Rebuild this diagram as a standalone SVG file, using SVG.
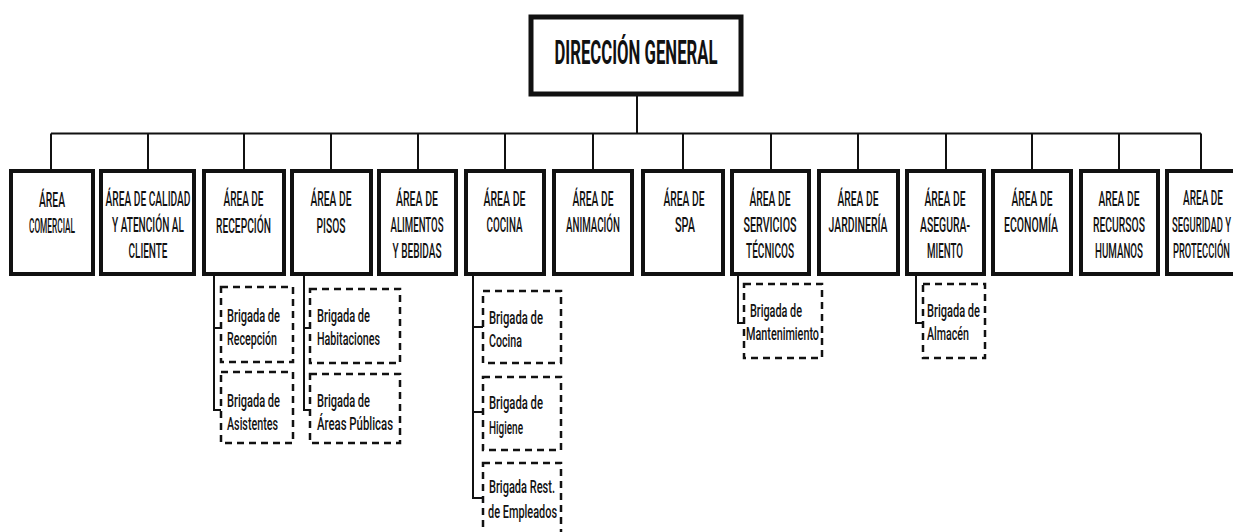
<svg xmlns="http://www.w3.org/2000/svg" width="1233" height="532" viewBox="0 0 1233 532">
<style>
.box{fill:#fff;stroke:#111;stroke-width:4}
.top{fill:#fff;stroke:#111;stroke-width:5}
.brig{fill:#fff;stroke:#111;stroke-width:2.5;stroke-dasharray:7 5}
.conn{fill:none;stroke:#111;stroke-width:2}
text{font-family:Roboto,"DejaVu Sans",sans-serif;font-weight:500;fill:#111}
.t{font-size:20px;text-anchor:middle}
.b{font-size:18px;text-anchor:start}
.h{font-size:33px;font-weight:bold;text-anchor:middle}
</style>
<rect width="1233" height="532" fill="#fff"/>
<g id="connectors">
<path class="conn" d="M637 95V133.5M51 133.5H1201"/>
<path class="conn" d="M51 133.5V169M148 133.5V169M244 133.5V169M331 133.5V169M418 133.5V169M505 133.5V169M593 133.5V169M683 133.5V169M771 133.5V169M858 133.5V169M946 133.5V169M1032 133.5V169M1119 133.5V169M1201 133.5V169"/>
<path class="conn" d="M214 275V410H221M214 328H221"/>
<path class="conn" d="M304 275V410H310M304 328H310"/>
<path class="conn" d="M473 275V498H483M473 327H483M473 412H483"/>
<path class="conn" d="M738 275V323H744"/>
<path class="conn" d="M916 275V323H923"/>
</g>
<g id="direccion">
<rect class="top" x="531" y="17" width="210" height="77"/>
<text class="h" x="636" y="64" textLength="163" lengthAdjust="spacingAndGlyphs">DIRECCIÓN GENERAL</text>
</g>
<g id="comercial">
<rect class="box" x="11" y="171" width="82" height="103"/>
<text class="t" x="52" y="207" textLength="26" lengthAdjust="spacingAndGlyphs">ÁREA</text>
<text class="t" x="52" y="233" textLength="46" lengthAdjust="spacingAndGlyphs">COMERCIAL</text>
</g>
<g id="calidad">
<rect class="box" x="101" y="171" width="93" height="103"/>
<text class="t" x="148" y="206" textLength="85" lengthAdjust="spacingAndGlyphs">ÁREA DE CALIDAD</text>
<text class="t" x="148" y="232" textLength="72" lengthAdjust="spacingAndGlyphs">Y ATENCIÓN AL</text>
<text class="t" x="148" y="258" textLength="39" lengthAdjust="spacingAndGlyphs">CLIENTE</text>
</g>
<g id="recepcion">
<rect class="box" x="204" y="171" width="80" height="103"/>
<text class="t" x="243.5" y="206" textLength="40" lengthAdjust="spacingAndGlyphs">ÁREA DE</text>
<text class="t" x="243.5" y="233" textLength="55" lengthAdjust="spacingAndGlyphs">RECEPCIÓN</text>
</g>
<g id="pisos">
<rect class="box" x="292" y="171" width="79" height="103"/>
<text class="t" x="331" y="206" textLength="41" lengthAdjust="spacingAndGlyphs">ÁREA DE</text>
<text class="t" x="331" y="233" textLength="29" lengthAdjust="spacingAndGlyphs">PISOS</text>
</g>
<g id="alimentos">
<rect class="box" x="379" y="171" width="77" height="103"/>
<text class="t" x="417" y="206" textLength="42" lengthAdjust="spacingAndGlyphs">ÁREA DE</text>
<text class="t" x="417" y="232" textLength="53" lengthAdjust="spacingAndGlyphs">ALIMENTOS</text>
<text class="t" x="417" y="258" textLength="49" lengthAdjust="spacingAndGlyphs">Y BEBIDAS</text>
</g>
<g id="cocina">
<rect class="box" x="466" y="171" width="78" height="103"/>
<text class="t" x="504.5" y="206" textLength="42" lengthAdjust="spacingAndGlyphs">ÁREA DE</text>
<text class="t" x="504.5" y="232" textLength="36" lengthAdjust="spacingAndGlyphs">COCINA</text>
</g>
<g id="animacion">
<rect class="box" x="554" y="171" width="78" height="103"/>
<text class="t" x="593" y="206" textLength="41" lengthAdjust="spacingAndGlyphs">ÁREA DE</text>
<text class="t" x="593" y="232" textLength="54" lengthAdjust="spacingAndGlyphs">ANIMACIÓN</text>
</g>
<g id="spa">
<rect class="box" x="643" y="171" width="80" height="103"/>
<text class="t" x="684" y="206" textLength="41" lengthAdjust="spacingAndGlyphs">ÁREA DE</text>
<text class="t" x="685" y="232" textLength="20" lengthAdjust="spacingAndGlyphs">SPA</text>
</g>
<g id="servicios">
<rect class="box" x="732" y="171" width="77" height="103"/>
<text class="t" x="770" y="206" textLength="41" lengthAdjust="spacingAndGlyphs">ÁREA DE</text>
<text class="t" x="770" y="232" textLength="53" lengthAdjust="spacingAndGlyphs">SERVICIOS</text>
<text class="t" x="770" y="258" textLength="48" lengthAdjust="spacingAndGlyphs">TÉCNICOS</text>
</g>
<g id="jardineria">
<rect class="box" x="819" y="171" width="79" height="103"/>
<text class="t" x="858" y="206" textLength="41" lengthAdjust="spacingAndGlyphs">ÁREA DE</text>
<text class="t" x="858" y="232" textLength="59" lengthAdjust="spacingAndGlyphs">JARDINERÍA</text>
</g>
<g id="aseguramiento">
<rect class="box" x="907" y="171" width="77" height="103"/>
<text class="t" x="945" y="206" textLength="41" lengthAdjust="spacingAndGlyphs">ÁREA DE</text>
<text class="t" x="945" y="232" textLength="50" lengthAdjust="spacingAndGlyphs">ASEGURA-</text>
<text class="t" x="945" y="258" textLength="36" lengthAdjust="spacingAndGlyphs">MIENTO</text>
</g>
<g id="economia">
<rect class="box" x="993" y="171" width="78" height="103"/>
<text class="t" x="1032" y="206" textLength="41" lengthAdjust="spacingAndGlyphs">ÁREA DE</text>
<text class="t" x="1031" y="232" textLength="54" lengthAdjust="spacingAndGlyphs">ECONOMÍA</text>
</g>
<g id="rrhh">
<rect class="box" x="1081" y="171" width="77" height="103"/>
<text class="t" x="1119" y="206" textLength="41" lengthAdjust="spacingAndGlyphs">AREA DE</text>
<text class="t" x="1119" y="232" textLength="52" lengthAdjust="spacingAndGlyphs">RECURSOS</text>
<text class="t" x="1119" y="258" textLength="48" lengthAdjust="spacingAndGlyphs">HUMANOS</text>
</g>
<g id="seguridad">
<rect class="box" x="1167" y="171" width="80" height="103"/>
<text class="t" x="1203" y="205" textLength="40" lengthAdjust="spacingAndGlyphs">AREA DE</text>
<text class="t" x="1201.5" y="232" textLength="59" lengthAdjust="spacingAndGlyphs">SEGURIDAD Y</text>
<text class="t" x="1201.5" y="258" textLength="57" lengthAdjust="spacingAndGlyphs">PROTECCIÓN</text>
</g>
<g id="b-recepcion">
<rect class="brig" x="221" y="287" width="72" height="75"/>
<text class="b" x="227" y="322" textLength="53" lengthAdjust="spacingAndGlyphs">Brigada de</text>
<text class="b" x="227" y="345" textLength="50" lengthAdjust="spacingAndGlyphs">Recepción</text>
</g>
<g id="b-asistentes">
<rect class="brig" x="221" y="372" width="72" height="71"/>
<text class="b" x="227" y="407" textLength="53" lengthAdjust="spacingAndGlyphs">Brigada de</text>
<text class="b" x="227" y="430" textLength="51" lengthAdjust="spacingAndGlyphs">Asistentes</text>
</g>
<g id="b-habitaciones">
<rect class="brig" x="310" y="289" width="90" height="74"/>
<text class="b" x="317" y="322" textLength="53" lengthAdjust="spacingAndGlyphs">Brigada de</text>
<text class="b" x="317" y="345" textLength="63" lengthAdjust="spacingAndGlyphs">Habitaciones</text>
</g>
<g id="b-areas">
<rect class="brig" x="310" y="374" width="90" height="69"/>
<text class="b" x="317" y="407" textLength="53" lengthAdjust="spacingAndGlyphs">Brigada de</text>
<text class="b" x="317" y="430" textLength="76" lengthAdjust="spacingAndGlyphs">Áreas Públicas</text>
</g>
<g id="b-cocina">
<rect class="brig" x="483" y="291" width="78" height="72"/>
<text class="b" x="489" y="324" textLength="54" lengthAdjust="spacingAndGlyphs">Brigada de</text>
<text class="b" x="489" y="347" textLength="33" lengthAdjust="spacingAndGlyphs">Cocina</text>
</g>
<g id="b-higiene">
<rect class="brig" x="483" y="377" width="78" height="73"/>
<text class="b" x="489" y="409" textLength="54" lengthAdjust="spacingAndGlyphs">Brigada de</text>
<text class="b" x="489" y="434" textLength="34" lengthAdjust="spacingAndGlyphs">Higiene</text>
</g>
<g id="b-restaurante">
<rect class="brig" x="483" y="463" width="78" height="80"/>
<text class="b" x="489" y="493" textLength="66" lengthAdjust="spacingAndGlyphs">Brigada Rest.</text>
<text class="b" x="488" y="518" textLength="69" lengthAdjust="spacingAndGlyphs">de Empleados</text>
</g>
<g id="b-mantenimiento">
<rect class="brig" x="744" y="284" width="78" height="74"/>
<text class="b" x="750" y="317" textLength="52" lengthAdjust="spacingAndGlyphs">Brigada de</text>
<text class="b" x="746" y="340" textLength="73" lengthAdjust="spacingAndGlyphs">Mantenimiento</text>
</g>
<g id="b-almacen">
<rect class="brig" x="923" y="284" width="62" height="74"/>
<text class="b" x="927" y="317" textLength="53" lengthAdjust="spacingAndGlyphs">Brigada de</text>
<text class="b" x="927" y="340" textLength="42" lengthAdjust="spacingAndGlyphs">Almacén</text>
</g>
</svg>
